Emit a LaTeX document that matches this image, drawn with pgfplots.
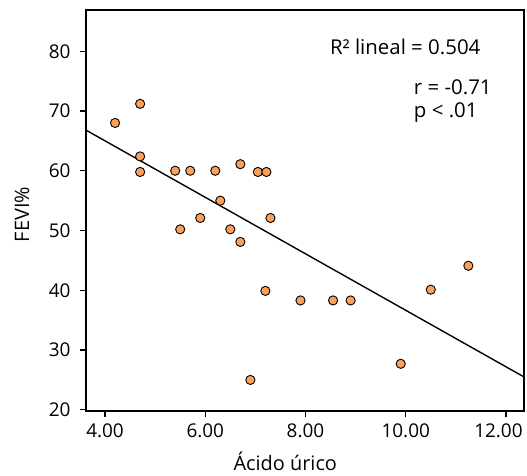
\documentclass[border=0pt]{standalone}
\usepackage{pgfplots}
\pgfplotsset{compat=1.18}
\usetikzlibrary{calc}
\usepackage{fontspec}
\setmainfont{Open Sans}
\definecolor{dotfill}{RGB}{250,160,90}
\begin{document}
\begin{tikzpicture}
\begin{axis}[
  scale only axis,
  width=438bp, height=401bp,
  xmin=3.62, xmax=12.36,
  ymin=19.8, ymax=86.9,
  xtick={4,6,8,10,12},
  xticklabels={4.00,6.00,8.00,10.00,\makebox[0pt]{\hspace*{-15bp}12.00}},
  ytick={20,30,40,50,60,70,80},
  tick align=outside,
  xtick pos=bottom, ytick pos=left,
  major tick length=6bp,
  axis line style={line width=1.3pt},
  tick style={line width=1.3pt, black},
  tick label style={font=\fontsize{19}{22}\selectfont},
  yticklabel style={xshift=-6bp},
  xticklabel style={yshift=-3bp},
  /pgf/number format/assume math mode=true,
  xlabel={Ácido úrico},
  ylabel={FEVI\%},
  label style={font=\fontsize{20}{23}\selectfont},
  xlabel style={at={(axis description cs:0.455,0)}, anchor=center, yshift=-50bp},
  ylabel style={at={(axis description cs:-0.146,0.49)}, anchor=center},
  clip=true,
]
\addplot[black, line width=1.4pt, forget plot] coordinates {(3.62,66.8) (12.36,25.5)};
\addplot[only marks, mark=*, mark size=4.6bp, mark options={fill=dotfill, draw=black, line width=0.9pt}] coordinates {
(4.2,68.0) (4.7,71.2) (4.7,62.4) (4.7,59.8) (5.4,60.0) (5.5,50.2) (5.7,60.0) (5.9,52.1)
(6.2,60.0) (6.3,55.0) (6.5,50.2) (6.7,61.1) (6.7,48.1) (6.9,25.0) (7.05,59.8) (7.22,59.8)
(7.3,52.1) (7.2,39.9) (7.9,38.3) (8.55,38.3) (8.9,38.3) (9.9,27.7) (10.5,40.1) (11.25,44.1)
};
\node[font=\fontsize{20.5}{23}\selectfont, inner sep=0pt] at (axis cs:9.99,80.75) {R² lineal = 0.504};
\node[font=\fontsize{20.5}{23}\selectfont, anchor=west, inner sep=0pt] at (axis cs:10.16,73.9) {r = -0.71};
\node[font=\fontsize{20.5}{23}\selectfont, anchor=west, inner sep=0pt] at (axis cs:10.16,69.7) {p < .01};
\end{axis}
\pgfresetboundingbox
\path ($(current axis.south west)+(-86bp,-65bp)$) rectangle ($(current axis.north east)+(3bp,10bp)$);
\end{tikzpicture}
\end{document}
